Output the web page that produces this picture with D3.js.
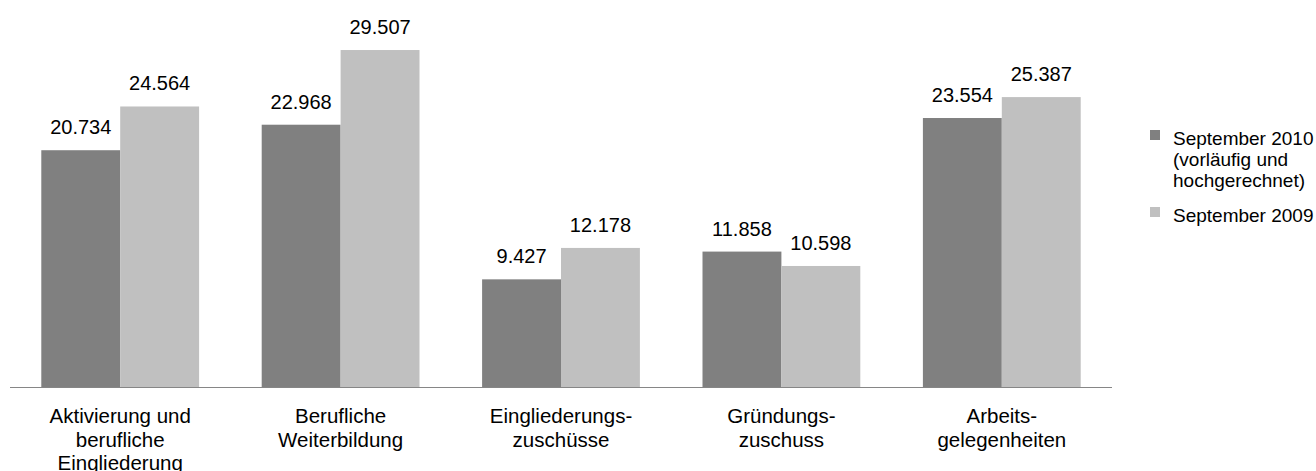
<!DOCTYPE html>
<html><head><meta charset="utf-8">
<script src="https://cdn.jsdelivr.net/npm/d3@7"></script>
<style>html,body{margin:0;padding:0;background:#fff;}svg{display:block;font-family:"Liberation Sans",Arial,sans-serif;}</style>
</head><body>
<svg id="c" width="1316" height="471"></svg>
<script>
const categories = [
  ["Aktivierung und","berufliche","Eingliederung"],
  ["Berufliche","Weiterbildung"],
  ["Eingliederungs-","zuschüsse"],
  ["Gründungs-","zuschuss"],
  ["Arbeits-","gelegenheiten"]
];
const series2010 = [20734, 22968, 9427, 11858, 23554];
const series2009 = [24564, 29507, 12178, 10598, 25387];
const seriesNames = [["September 2010","(vorläufig und","hochgerechnet)"],["September 2009"]];
const colors = ["#808080","#c0c0c0"];

const svg = d3.select("#c");
const fmt = v => d3.format(",")(v).replace(/,/g,".");
const keys = ["s2010","s2009"];
const data = categories.map((c,i)=>({cat:c.join(" "), lines:c, s2010:series2010[i], s2009:series2009[i]}));

const x0 = d3.scaleBand().domain(data.map(d=>d.cat)).range([10,1112]).paddingInner(0.284).paddingOuter(0.142);
const x1 = d3.scaleBand().domain(keys).range([0,x0.bandwidth()]);
const y = d3.scaleLinear().domain([0,30000]).range([387,44.4]);
const color = d3.scaleOrdinal().domain(keys).range(colors);

const g = svg.selectAll("g.grp").data(data).join("g").attr("transform",d=>`translate(${x0(d.cat)},0)`);
g.selectAll("rect").data(d=>keys.map(k=>({k,v:d[k]}))).join("rect")
  .attr("x",d=>x1(d.k)).attr("width",x1.bandwidth())
  .attr("y",d=>y(d.v)).attr("height",d=>y(0)-y(d.v))
  .attr("fill",d=>color(d.k));
g.selectAll("text.val").data(d=>keys.map(k=>({k,v:d[k]}))).join("text").attr("class","val")
  .attr("x",d=>x1(d.k)+x1.bandwidth()/2).attr("y",d=>y(d.v)-16)
  .attr("text-anchor","middle").attr("font-size",20).attr("fill","#000")
  .text(d=>fmt(d.v));

// axis
const ax = svg.append("g").attr("transform",`translate(0,${y(0)})`)
  .call(d3.axisBottom(x0).tickSize(0).tickFormat(""));
ax.select(".domain").attr("stroke","#868686").attr("d","M10,0.5H1112");
ax.selectAll(".tick").each(function(d,i){
  const t = d3.select(this).append("text").attr("text-anchor","middle").attr("font-size",20.5).attr("fill","#000");
  categories[i].forEach((l,j)=>t.append("tspan").attr("x",0).attr("y",36+j*23.5).text(l));
});

// legend
const lg = svg.append("g");
const legY = [145, 222];
seriesNames.forEach((lines,i)=>{
  lg.append("rect").attr("x",1150).attr("y",legY[i]-15).attr("width",10).attr("height",10).attr("fill",colors[i]);
  const t = lg.append("text").attr("font-size",19).attr("fill","#000");
  lines.forEach((l,j)=>t.append("tspan").attr("x",1173).attr("y",legY[i]+j*21).text(l));
});
</script>
</body></html>
